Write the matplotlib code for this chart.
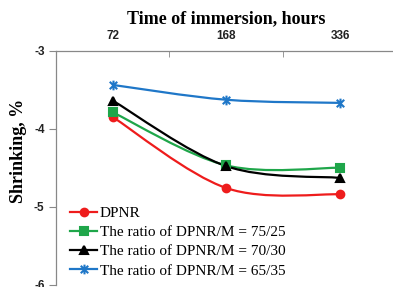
import numpy as np
import matplotlib
matplotlib.use("Agg")
import matplotlib.pyplot as plt
from matplotlib.path import Path
from matplotlib.patches import PathPatch
from matplotlib.lines import Line2D

# --- data ---
hours = ["72", "168", "336"]
dpnr = [-3.85, -4.76, -4.84]
ratio_75_25 = [-3.79, -4.47, -4.50]
ratio_70_30 = [-3.64, -4.48, -4.63]
ratio_65_35 = [-3.44, -3.63, -3.67]
labels = ["DPNR",
          "The ratio of DPNR/M = 75/25",
          "The ratio of DPNR/M = 70/30",
          "The ratio of DPNR/M = 65/35"]
colors = ["#ee1c1c", "#1fa64a", "#000000", "#1f77c8"]

# Excel style asterisk marker: x plus vertical bar
star = Path([(-1, -1), (1, 1), (-1, 1), (1, -1), (0, -1.3), (0, 1.3)],
            [Path.MOVETO, Path.LINETO, Path.MOVETO, Path.LINETO, Path.MOVETO, Path.LINETO])
markers = ["o", "s", "^", star]
msizes = [5.5, 5.5, 6, 7]


def smooth_path(xs, ys):
    # cubic bezier through points (Catmull-Rom style, like Excel "smoothed line")
    pts = np.column_stack([xs, ys])
    ext = np.vstack([pts[0], pts, pts[-1]])
    verts, codes = [tuple(pts[0])], [Path.MOVETO]
    for i in range(1, len(ext) - 2):
        p0, p1, p2, p3 = ext[i - 1], ext[i], ext[i + 1], ext[i + 2]
        c1 = p1 + (p2 - p0) / 6
        c2 = p2 - (p3 - p1) / 6
        verts += [tuple(c1), tuple(c2), tuple(p2)]
        codes += [Path.CURVE4] * 3
    return Path(verts, codes)


fig = plt.figure(figsize=(3.93, 2.87), dpi=100)
ax = fig.add_axes([0.1417, 0.007, 0.8685, 0.817])

x = np.arange(len(hours)) + 0.5
series = [dpnr, ratio_75_25, ratio_70_30, ratio_65_35]
handles = []
for ys, c, m, ms, lab in zip(series, colors, markers, msizes, labels):
    ax.add_patch(PathPatch(smooth_path(x, ys), fill=False, edgecolor=c, lw=1.6, zorder=2))
    ax.plot(x, ys, ls="none", marker=m, ms=ms, color=c, mec=c, mew=1.5, zorder=3)
    handles.append(Line2D([], [], color=c, lw=1.6, marker=m, ms=ms, mec=c, mew=1.5))

ax.set_xlim(0, 3)
ax.set_ylim(-6, -3)
ax.set_yticks([-3, -4, -5, -6])
ax.set_yticklabels(["-3", "-4", "-5", "-6"])
ax.xaxis.tick_top()
ax.xaxis.set_label_position("top")
ax.set_xticks(x)
ax.set_xticklabels(hours)
ax.set_xticks([1, 2, 3], minor=True)
ax.tick_params(axis="x", which="major", length=0, pad=6)
ax.tick_params(axis="x", which="minor", direction="in", length=4, color="#888888")
ax.tick_params(axis="y", direction="out", length=5, color="#888888", pad=3)
for t in ax.get_xticklabels() + ax.get_yticklabels():
    t.set_fontfamily("Liberation Sans")
    t.set_fontweight("bold")
    t.set_fontsize(8.5)
    t.set_color("#222222")

for s in ["right", "bottom"]:
    ax.spines[s].set_visible(False)
for s in ["top", "left"]:
    ax.spines[s].set_color("#888888")
    ax.spines[s].set_linewidth(0.9)

ax.set_xlabel("Time of immersion, hours", family="Liberation Serif",
              fontweight="bold", fontsize=13, labelpad=5)
ax.set_ylabel("Shrinking, %", family="Liberation Serif", fontweight="bold",
              fontsize=13)
ax.yaxis.set_label_coords(-0.085, 0.57)

ax.legend(handles, labels, loc="lower left", bbox_to_anchor=(0.012, -0.014),
          frameon=False, prop={"family": "Liberation Serif", "size": 11},
          handlelength=1.75, handletextpad=0.15, labelspacing=0.36, borderaxespad=0.3)

fig.savefig("out.png", dpi=100)
